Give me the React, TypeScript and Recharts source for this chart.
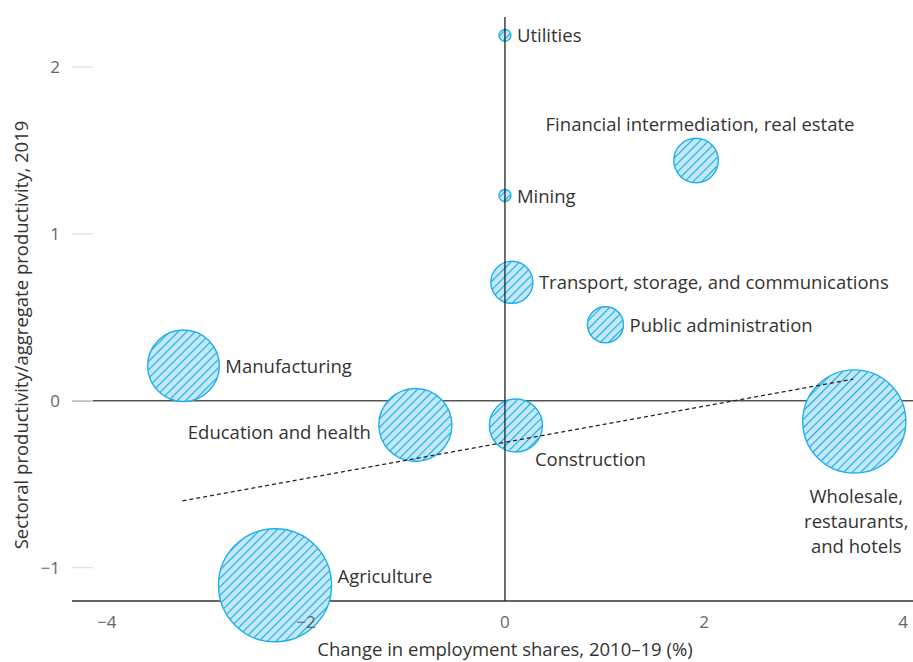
import { ScatterChart, Scatter, XAxis, YAxis, ZAxis, ReferenceLine, Label } from "recharts"

// sector bubbles: x = change in employment share, y = relative productivity, z = employment share
const sectors = [
  "Utilities",
  "Financial intermediation, real estate",
  "Mining",
  "Transport, storage, and communications",
  "Public administration",
  "Manufacturing",
  "Education and health",
  "Construction",
  "Wholesale, restaurants, and hotels",
  "Agriculture",
]
const employmentChange = [0.0, 1.92, 0.0, 0.07, 1.01, -3.23, -0.9, 0.11, 3.51, -2.31]
const relativeProductivity = [2.19, 1.44, 1.23, 0.71, 0.455, 0.21, -0.145, -0.148, -0.124, -1.106]
const employmentShare = [0.34, 4.7, 0.34, 4.2, 3.1, 12.2, 12.7, 6.7, 25.3, 30.4]

const xTicks = [-4, -2, 0, 2, 4]
const yTicks = [-1, 0, 1, 2]

// fitted trend line end points
const trendX = [-3.24, 3.5]
const trendY = [-0.6, 0.13]

const data = sectors.map((name, i) => ({
  name,
  x: employmentChange[i],
  y: relativeProductivity[i],
  z: employmentShare[i],
}))

// where each label sits relative to its bubble
const labelSide: Record<string, string> = {
  Utilities: "right",
  "Financial intermediation, real estate": "above",
  Mining: "right",
  "Transport, storage, and communications": "right",
  "Public administration": "right",
  Manufacturing: "right",
  "Education and health": "left",
  Construction: "belowRight",
  "Wholesale, restaurants, and hotels": "below",
  Agriculture: "rightHigh",
}

const FONT = "'Open Sans', 'Noto Sans', sans-serif"
const minus = (v: number) => String(v).replace("-", "\u2212")

const Bubble = (props: any) => {
  const { cx, cy, payload } = props
  const r = props.width ? props.width / 2 : Math.sqrt((props.size || 0) / Math.PI)
  const side = labelSide[payload.name]
  const txt = { fill: "#333", fontSize: 18.5, fontFamily: FONT }
  let label = null
  if (side === "right") {
    label = <text x={cx + r + 6} y={cy + 7} {...txt}>{payload.name}</text>
  } else if (side === "rightHigh") {
    label = <text x={cx + r + 6} y={cy - 2} {...txt}>{payload.name}</text>
  } else if (side === "left") {
    label = <text x={cx - r - 8} y={cy + 14} textAnchor="end" {...txt}>{payload.name}</text>
  } else if (side === "belowRight") {
    label = <text x={cx + 19} y={cy + r + 14} {...txt}>{payload.name}</text>
  } else if (side === "above") {
    label = <text x={cx + 4} y={cy - r - 7} textAnchor="middle" {...txt}>{payload.name}</text>
  } else if (side === "below") {
    const lines = payload.name.split(/(?<=,) /)
    label = (
      <text x={cx + 2} y={cy + r + 30} textAnchor="middle" {...txt}>
        {lines.map((l: string, i: number) => (
          <tspan key={i} x={cx + 2} dy={i === 0 ? 0 : 25}>{l}</tspan>
        ))}
      </text>
    )
  }
  return (
    <g>
      <circle cx={cx} cy={cy} r={r} fill="url(#hatch)" stroke="#1cb0ec" strokeWidth={1.4} />
      {label}
    </g>
  )
}

const YTick = (props: any) => {
  const { x, y, payload } = props
  return (
    <g>
      <line x1={x} x2={x + 21} y1={y} y2={y} stroke="#e2e2e2" strokeWidth={1.3} />
      <text x={x - 12} y={y + 6} textAnchor="end" fill="#666" fontSize={17} fontFamily={FONT}>
        {minus(payload.value)}
      </text>
    </g>
  )
}

export default function App() {
  return (
    <div style={{ position: "absolute", left: 0, top: 0, width: 913, height: 662, background: "#fff" }}>
      <svg width={0} height={0} style={{ position: "absolute" }}>
        <defs>
          <pattern id="hatch" patternUnits="userSpaceOnUse" width={6} height={6} patternTransform="rotate(45)">
            <rect width={6} height={6} fill="#c3e8f8" />
            <line x1={0} y1={0} x2={0} y2={6} stroke="#18a9e4" strokeWidth={2.2} />
          </pattern>
        </defs>
      </svg>
      <ScatterChart width={913} height={662} margin={{ top: 17, right: 0, bottom: 0, left: 0 }}>
        <XAxis
          type="number"
          dataKey="x"
          domain={[-4.35, 4.1]}
          ticks={xTicks}
          tickLine={false}
          tickSize={0}
          tickMargin={15}
          height={61}
          axisLine={{ stroke: "#333", strokeWidth: 1.3 }}
          tickFormatter={minus}
          tick={{ fill: "#666", fontSize: 17, fontFamily: FONT }}
        >
          <Label
            content={() => (
              <text x={505} y={656} textAnchor="middle" fill="#333" fontSize={18.5} fontFamily={FONT}>
                Change in employment shares, 2010–19 (%)
              </text>
            )}
          />
        </XAxis>
        <YAxis
          type="number"
          dataKey="y"
          domain={[-1.2, 2.3]}
          ticks={yTicks}
          width={72}
          axisLine={false}
          tickLine={false}
          tickSize={0}
          tickMargin={0}
          tick={<YTick />}
        >
          <Label
            content={() => (
              <text
                transform="translate(28,335) rotate(-90)"
                textAnchor="middle"
                fill="#333"
                fontSize={18.5}
                fontFamily={FONT}
              >
                Sectoral productivity/aggregate productivity, 2019
              </text>
            )}
          />
        </YAxis>
        <ZAxis type="number" dataKey="z" domain={[0, 100]} range={[0, 33000]} />
        <ReferenceLine y={0} stroke="#555" strokeWidth={1.5} />
        <Scatter data={data} shape={<Bubble />} isAnimationActive={false} />
        <ReferenceLine x={0} stroke="#222" strokeWidth={1.3} zIndex={700} />
        <ReferenceLine
          segment={[
            { x: trendX[0], y: trendY[0] },
            { x: trendX[1], y: trendY[1] },
          ]}
          stroke="#222"
          strokeWidth={1.3}
          strokeDasharray="4 3"
          zIndex={700}
        />
      </ScatterChart>
    </div>
  )
}
